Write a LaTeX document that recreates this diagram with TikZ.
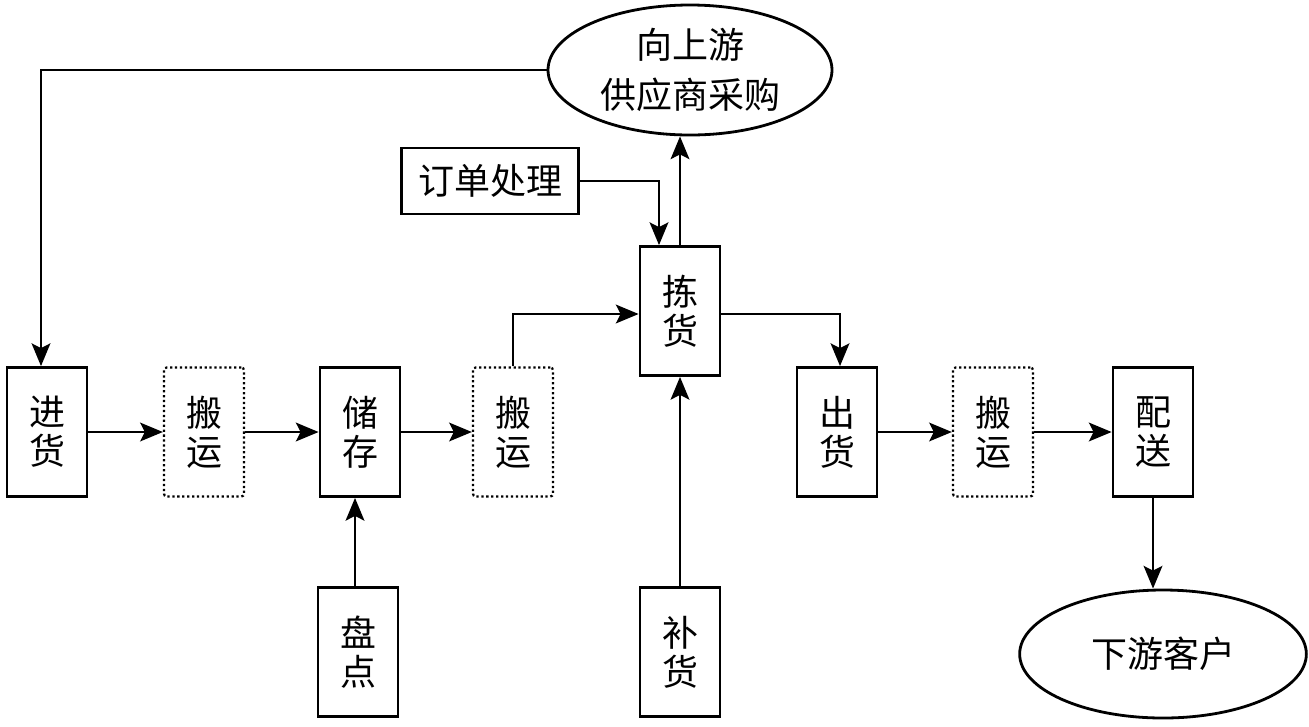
\documentclass[tikz,border=0pt]{standalone}
\usepackage{fontspec}
\setmainfont{Noto Sans CJK SC}
\usetikzlibrary{arrows.meta,shapes.geometric}
\begin{document}
\begin{tikzpicture}[x=0.75pt,y=-0.75pt,
  every node/.style={font=\fontsize{27}{29}\selectfont, inner sep=0pt, align=center},
  solidbox/.style={draw, line width=2.1pt, minimum width=60pt, minimum height=96.75pt},
  dotbox/.style={draw, line width=1.7pt, dotted, rounded corners=2pt, minimum width=60pt, minimum height=96.75pt},
  oval/.style={draw, ellipse, line width=2.1pt},
  conn/.style={line width=1.9pt, -{Stealth[length=17pt,width=14pt,inset=3.5pt]}}
]
\useasboundingbox (0,0) rectangle (1309,726);
\node[solidbox] (jin) at (47,432) {进\\货};
\node[dotbox] (by1) at (204,432) {搬\\运};
\node[solidbox] (cc) at (360,432) {储\\存};
\node[dotbox] (by2) at (513,432) {搬\\运};
\node[solidbox] (jh) at (680,311) {拣\\货};
\node[solidbox] (ch) at (837,432) {出\\货};
\node[dotbox] (by3) at (993,432) {搬\\运};
\node[solidbox] (ps) at (1153,432) {配\\送};
\node[solidbox] (pd) at (358,652) {盘\\点};
\node[solidbox] (bh) at (680,652) {补\\货};
\node[draw, line width=2.1pt, minimum width=132.75pt, minimum height=49.5pt] (dd) at (490,181) {订单处理};
\node[oval, minimum width=213pt, minimum height=97.5pt, font=\fontsize{27}{37}\selectfont] (up) at (690,70) {向上游\\供应商采购};
\node[oval, minimum width=215pt, minimum height=96pt] (down) at (1163,654) {下游客户};
\coordinate (pdtop) at ([xshift=-2.25pt]pd.north);

\draw[conn] (up.west) -| ([xshift=-4.5pt]jin.north);
\draw[conn] (jin) -- (by1);
\draw[conn] (by1) -- (cc);
\draw[conn] (cc) -- (by2);
\draw[conn] (by2.north) |- ([yshift=-2.25pt]jh.west);
\draw[conn] (dd.east) -| ([xshift=-15.75pt]jh.north);
\draw[conn] (jh.north) -- (jh.north |- up.south);
\draw[conn] ([yshift=-2.25pt]jh.east) -| ([xshift=2.25pt]ch.north);
\draw[conn] (ch) -- (by3);
\draw[conn] (by3) -- (ps);
\draw[conn] (ps.south) -- (ps.south |- down.north);
\draw[conn] (pdtop) -- (pdtop |- cc.south);
\draw[conn] (bh.north) -- (jh.south);
\end{tikzpicture}
\end{document}
